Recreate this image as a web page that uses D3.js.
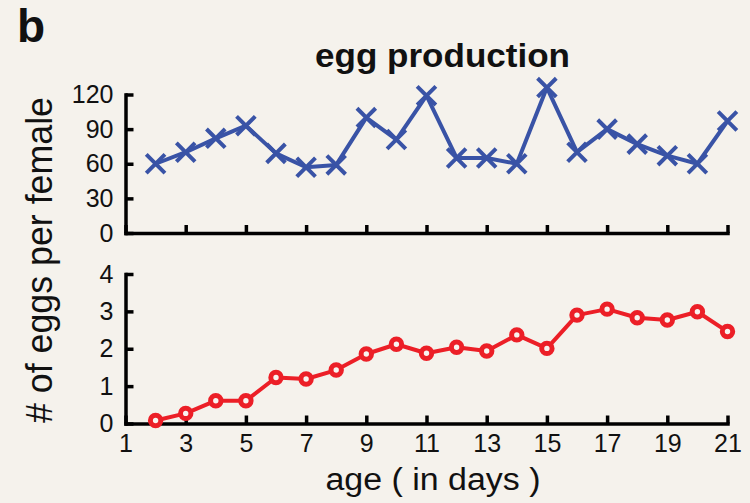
<!DOCTYPE html>
<html>
<head>
<meta charset="utf-8">
<script src="https://cdn.jsdelivr.net/npm/d3@7"></script>
<style>
  html, body { margin: 0; padding: 0; background: #f5f2ec; }
  svg { display: block; }
  text { font-family: "Liberation Sans", Arial, Helvetica, sans-serif; fill: #111; }
</style>
</head>
<body>
<svg id="chart" width="750" height="503"></svg>
<script>
// Age of the females, in days
const days = [2, 3, 4, 5, 6, 7, 8, 9, 10, 11, 12, 13, 14, 15, 16, 17, 18, 19, 20, 21];
// Upper panel: eggs laid per female
const eggsUpper = [60, 70, 82, 93, 69, 57, 59, 100, 81, 119, 65, 65, 60, 126, 70, 90, 77, 67, 60, 97];
// Lower panel: eggs per female
const eggsLower = [0.08, 0.27, 0.61, 0.61, 1.23, 1.19, 1.43, 1.86, 2.12, 1.88, 2.04, 1.94, 2.37, 2.01, 2.90, 3.06, 2.83, 2.77, 2.99, 2.46];
// Tick values
const xTicks = [1, 3, 5, 7, 9, 11, 13, 15, 17, 19, 21];
const yTicksUpper = [0, 30, 60, 90, 120];
const yTicksLower = [0, 1, 2, 3, 4];

const svg = d3.select("#chart");
const blue = "#3953a6";
const red = "#ec1f27";

const x = d3.scaleLinear().domain([1, 21]).range([125.5, 727.5]);
const yUp = d3.scaleLinear().domain([0, 120]).range([233, 94.5]);
const yLo = d3.scaleLinear().domain([0, 4]).range([423.5, 274]);
const intFmt = d3.format("d");

function styleAxis(g) {
  g.select(".domain").attr("stroke", "#000").attr("stroke-width", 3.5).attr("stroke-linecap", "square");
  g.selectAll(".tick line").attr("stroke", "#000").attr("stroke-width", 3.5);
  g.selectAll(".tick text").attr("font-size", 25).attr("fill", "#111")
    .attr("font-family", "'Liberation Sans', Arial, Helvetica, sans-serif");
}

// Upper panel axes
svg.append("g")
  .attr("transform", `translate(0,${yUp(0)})`)
  .call(d3.axisBottom(x).tickValues(xTicks).tickSize(-8).tickSizeOuter(0).tickFormat(""))
  .call(styleAxis);
svg.append("g")
  .attr("transform", `translate(${x(1)},0)`)
  .call(d3.axisLeft(yUp).tickValues(yTicksUpper).tickFormat(intFmt).tickSize(-8).tickSizeOuter(0).tickPadding(12))
  .call(styleAxis);

// Lower panel axes
svg.append("g")
  .attr("transform", `translate(0,${yLo(0)})`)
  .call(d3.axisBottom(x).tickValues(xTicks).tickFormat(intFmt).tickSize(-8).tickSizeOuter(0).tickPadding(11))
  .call(styleAxis);
svg.append("g")
  .attr("transform", `translate(${x(1)},0)`)
  .call(d3.axisLeft(yLo).tickValues(yTicksLower).tickFormat(intFmt).tickSize(-8).tickSizeOuter(0).tickPadding(12))
  .call(styleAxis);

// Upper series: line with x-shaped markers
const upper = days.map((d, i) => ({ d, v: eggsUpper[i] }));
svg.append("path")
  .datum(upper)
  .attr("fill", "none").attr("stroke", blue).attr("stroke-width", 4).attr("stroke-linejoin", "round")
  .attr("d", d3.line().x(p => x(p.d)).y(p => yUp(p.v)));
svg.append("g").selectAll("path")
  .data(upper).join("path")
  .attr("transform", p => `translate(${x(p.d)},${yUp(p.v)})`)
  .attr("d", d3.symbol(d3.symbolTimes, 230)())
  .attr("fill", "none").attr("stroke", blue).attr("stroke-width", 4);

// Lower series: line with open circles
const lower = days.map((d, i) => ({ d, v: eggsLower[i] }));
svg.append("path")
  .datum(lower)
  .attr("fill", "none").attr("stroke", red).attr("stroke-width", 4).attr("stroke-linejoin", "round")
  .attr("d", d3.line().x(p => x(p.d)).y(p => yLo(p.v)));
svg.append("g").selectAll("circle")
  .data(lower).join("circle")
  .attr("cx", p => x(p.d)).attr("cy", p => yLo(p.v)).attr("r", 5.2)
  .attr("fill", "#f8f4f0").attr("stroke", red).attr("stroke-width", 5);

// Titles and labels
svg.append("text").attr("x", 17).attr("y", 42)
  .attr("font-size", 46).attr("font-weight", "bold").text("b");
svg.append("text").attr("x", 442.5).attr("y", 67).attr("text-anchor", "middle")
  .attr("font-size", 33).attr("font-weight", "bold")
  .attr("textLength", 255).attr("lengthAdjust", "spacingAndGlyphs")
  .text("egg production");
svg.append("text").attr("x", 433).attr("y", 490).attr("text-anchor", "middle")
  .attr("font-size", 31)
  .attr("textLength", 215).attr("lengthAdjust", "spacingAndGlyphs")
  .text("age ( in days )");
svg.append("text").attr("transform", "translate(52,260) rotate(-90)").attr("text-anchor", "middle")
  .attr("font-size", 36)
  .attr("textLength", 326).attr("lengthAdjust", "spacingAndGlyphs")
  .text("# of eggs per female");
</script>
</body>
</html>
